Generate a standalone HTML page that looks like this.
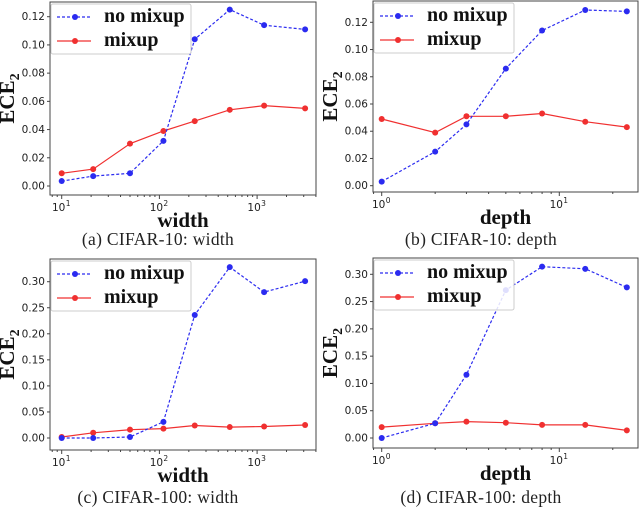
<!DOCTYPE html>
<html><head><meta charset="utf-8"><style>
html,body{margin:0;padding:0;background:#fff}
svg{display:block}
.tick{font-family:"DejaVu Sans",sans-serif;font-size:10.5px;fill:#222}
.lbl{font-family:"Liberation Serif",serif;font-weight:bold;font-size:21px;fill:#111}
.cap{font-family:"Liberation Serif",serif;font-size:17.5px;fill:#222;letter-spacing:0.3px}
.leg{font-family:"Liberation Serif",serif;font-weight:bold;font-size:20px;fill:#111}
</style></head><body>
<svg id="chart" width="640" height="510" xmlns="http://www.w3.org/2000/svg"></svg>
<script>
const widthX=[10,21,50,110,230,525,1180,3100];
const depthX=[1,2,3,5,8,14,24];
const aBlue=[0.0035,0.007,0.009,0.032,0.104,0.125,0.114,0.111];
const aRed=[0.009,0.012,0.030,0.039,0.046,0.054,0.057,0.055];
const bBlue=[0.003,0.025,0.045,0.086,0.114,0.129,0.128];
const bRed=[0.049,0.039,0.051,0.051,0.053,0.047,0.043];
const cBlue=[0,0,0.002,0.031,0.236,0.328,0.280,0.301];
const cRed=[0.002,0.010,0.016,0.018,0.024,0.021,0.022,0.025];
const dBlue=[0,0.027,0.116,0.271,0.314,0.310,0.276];
const dRed=[0.020,0.027,0.030,0.028,0.024,0.024,0.014];
const yTicksA=["0.00","0.02","0.04","0.06","0.08","0.10","0.12"];
const yTicksC=["0.00","0.05","0.10","0.15","0.20","0.25","0.30"];
const captions=["(a) CIFAR-10:  width","(b) CIFAR-10:  depth","(c) CIFAR-100:  width","(d) CIFAR-100:  depth"];
const NS="http://www.w3.org/2000/svg";
const svg=document.getElementById('chart');
function mk(tag,attrs,parent){const e=document.createElementNS(NS,tag);for(const k in attrs)e.setAttribute(k,attrs[k]);(parent||svg).appendChild(e);return e;}
const panels=[
 {id:'a',box:[50,2,316,195],y0:186,yv1:0.12,y1:16.7,yt:yTicksA,x0:61.7,dec:97.7,lx:10,xs:widthX,blue:aBlue,red:aRed,xl:'width',expo:[1,2,3],cap:captions[0],cy:245,cx:158},
 {id:'b',box:[373,1,638,192],y0:185.7,yv1:0.12,y1:22.3,yt:yTicksA,x0:381.7,dec:177.6,lx:1,xs:depthX,blue:bBlue,red:bRed,xl:'depth',expo:[0,1],cap:captions[1],cy:245,cx:481},
 {id:'c',box:[50,259,316,450],y0:438,yv1:0.30,y1:281.7,yt:yTicksC,x0:61.7,dec:97.7,lx:10,xs:widthX,blue:cBlue,red:cRed,xl:'width',expo:[1,2,3],cap:captions[2],cy:503,cx:158},
 {id:'d',box:[373,258,638,448],y0:438,yv1:0.30,y1:274.3,yt:yTicksC,x0:381.7,dec:177.6,lx:1,xs:depthX,blue:dBlue,red:dRed,xl:'depth',expo:[0,1],cap:captions[3],cy:503,cx:481}
];
panels.forEach(p=>{
 const g=mk('g',{});
 
 
 const X=v=>p.x0+Math.log10(v/p.lx)*p.dec;
 const Y=v=>p.y0-(v/p.yv1)*(p.y0-p.y1);
 const [l,t,r,b]=p.box;
 const fr=mk('rect',{x:l,y:t,width:r-l,height:b-t,fill:'none',stroke:'#444','stroke-width':1},g);
 
 
 p.yt.forEach(s=>{const v=parseFloat(s);const y=Y(v);
  mk('line',{x1:l-3,x2:l,y1:y,y2:y,stroke:'#444'},g);
  const tx=mk('text',{x:l-5,y:y+3.5,'text-anchor':'end',class:'tick'},g);tx.textContent=s;
  
  
 });
 p.expo.forEach(e=>{const x=X(Math.pow(10,e));
  mk('line',{x1:x,x2:x,y1:b,y2:b+4,stroke:'#444'},g);
  const tx=mk('text',{x:x-3,y:b+16,'text-anchor':'middle',class:'tick'},g);tx.textContent='10';
  
  
  const sp=mk('text',{x:x+4,y:b+11,class:'tick',style:'font-size:7.5px'},g);sp.textContent=String(e);
 });
 for(let e=-1;e<5;e++)for(let m=2;m<10;m++){const v=m*Math.pow(10,e);const x=X(v);if(x>l&&x<r)mk('line',{x1:x,x2:x,y1:b,y2:b+2,stroke:'#444'},g);}
 [[p.red,'#f03030','none','mixup-line'],[p.blue,'#2b2bf0','3,2','no-mixup-line']].forEach(([vals,col,dash,nm])=>{
  const pts=vals.map((v,i)=>X(p.xs[i]).toFixed(1)+','+Y(v).toFixed(1)).join(' ');
  const pl=mk('polyline',{points:pts,fill:'none',stroke:col,'stroke-width':1.2,'stroke-dasharray':dash},g);
  
  
  vals.forEach((v,i)=>{const c=mk('circle',{cx:X(p.xs[i]),cy:Y(v),r:3,fill:col},g);
   
   });
 });
 const lg=mk('g',{},g);
 
 
 mk('rect',{x:l+1,y:t+2,width:140,height:50,fill:'#fff','fill-opacity':0.85,stroke:'#ccc',rx:2},lg);
 [['no mixup','#2b2bf0','3,2',t+15],['mixup','#f03030','none',t+39]].forEach(([s,col,dash,yy])=>{
  mk('line',{x1:l+7,x2:l+41,y1:yy,y2:yy,stroke:col,'stroke-width':1.2,'stroke-dasharray':dash},lg);
  mk('circle',{cx:l+25,cy:yy,r:3,fill:col},lg);
  const tx=mk('text',{x:l+54,y:yy+5,class:'leg'},lg);tx.textContent=s;
  
  
 });
 const xl=mk('text',{x:(l+r)/2,y:b+32,'text-anchor':'middle',class:'lbl'},g);xl.textContent=p.xl;
 
 
 const ycx=l-36, ycy=(t+b)/2;
 const yl=mk('text',{x:ycx,y:ycy,'text-anchor':'middle',class:'lbl',transform:`rotate(-90 ${ycx} ${ycy})`},g);
 
 
 yl.textContent='ECE';
 const sub=mk('tspan',{dy:5,style:'font-size:14px'},yl);sub.textContent='2';
 const cp=mk('text',{x:p.cx,y:p.cy,'text-anchor':'middle',class:'cap'},g);cp.textContent=p.cap;
 
 
});
</script>
</body></html>
